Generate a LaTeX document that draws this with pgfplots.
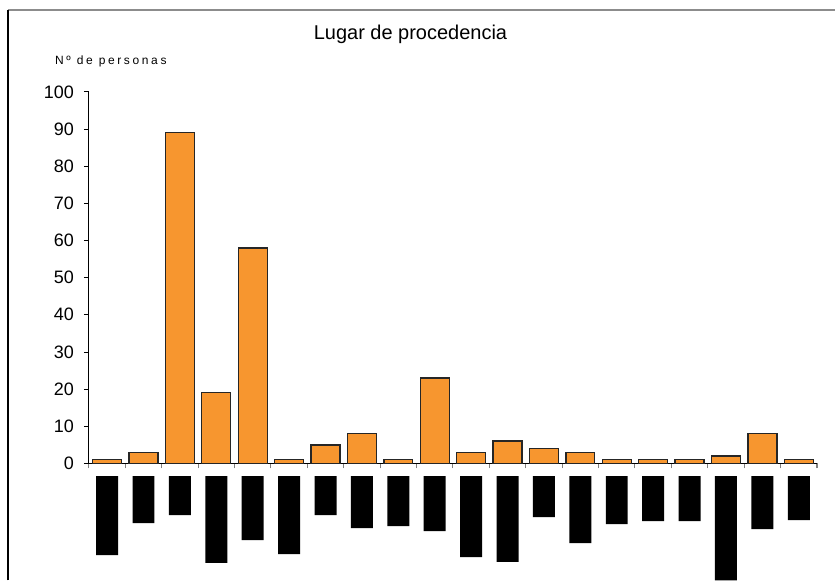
\documentclass[border=0pt]{standalone}
\usepackage{pgfplots}
\pgfplotsset{compat=1.18}
\usepackage{fontspec}
\setmainfont{Liberation Sans}
\definecolor{barorange}{HTML}{F7962F}
\begin{document}
\begin{tikzpicture}
\path (0,0) rectangle (627pt,435.75pt);
% frame
\draw[line width=1.6pt, color=gray!90] (6pt,428.25pt) -- (627pt,428.25pt);
\draw[line width=1.1pt, color=black] (6pt,0pt) -- (6pt,428.25pt);
% title
\node[font=\fontsize{15pt}{18pt}\selectfont, anchor=base] at (308.25pt,406pt) {Lugar de procedencia};
\node[font=\fontsize{9pt}{10pt}\selectfont\addfontfeature{LetterSpace=22}, anchor=base west, inner sep=0pt] at (41.25pt,387.5pt) {Nº de personas};
\begin{axis}[
  at={(66.75pt,87.75pt)}, anchor=south west,
  scale only axis, width=546.75pt, height=279pt,
  xmin=0, xmax=20, ymin=0, ymax=100,
  axis x line=bottom, axis y line=left,
  axis line style={-, line width=0.6pt},
  xtick={0,1,...,20}, xticklabels={},
  ytick={0,10,...,100},
  tick align=outside, major tick length=3.75pt,
  tick style={line width=0.6pt, color=black},
  every x tick/.style={color=gray, line width=0.8pt},
  yticklabel style={font=\fontsize{13.5pt}{15pt}\selectfont, xshift=-4pt},
  /pgf/number format/assume math mode=true,
  ybar, bar width=21.75pt, bar shift=0pt,
  clip=false,
]
\addplot[fill=barorange, draw=black!85, line width=1pt] coordinates {
(0.5,1) (1.5,3) (2.5,89) (3.5,19) (4.5,58) (5.5,1) (6.5,5) (7.5,8) (8.5,1) (9.5,23)
(10.5,3) (11.5,6) (12.5,4) (13.5,3) (14.5,1) (15.5,1) (16.5,1) (17.5,2) (18.5,8) (19.5,1)
};
\end{axis}
\begin{axis}[
  at={(66.75pt,0pt)}, anchor=south west,
  scale only axis, width=546.75pt, height=78.2pt,
  xmin=0, xmax=20, ymin=-104.3, ymax=0,
  axis lines=none,
  ybar, bar width=16.5pt, bar shift=0pt,
]
\addplot[fill=black, draw=none] coordinates {
(0.5,-79) (1.5,-47) (2.5,-39) (3.5,-87) (4.5,-64) (5.5,-78) (6.5,-39) (7.5,-52) (8.5,-50) (9.5,-55)
(10.5,-81) (11.5,-86) (12.5,-41) (13.5,-67) (14.5,-48) (15.5,-45) (16.5,-45) (17.5,-104.3) (18.5,-53) (19.5,-44)
};
\end{axis}
\end{tikzpicture}
\end{document}
